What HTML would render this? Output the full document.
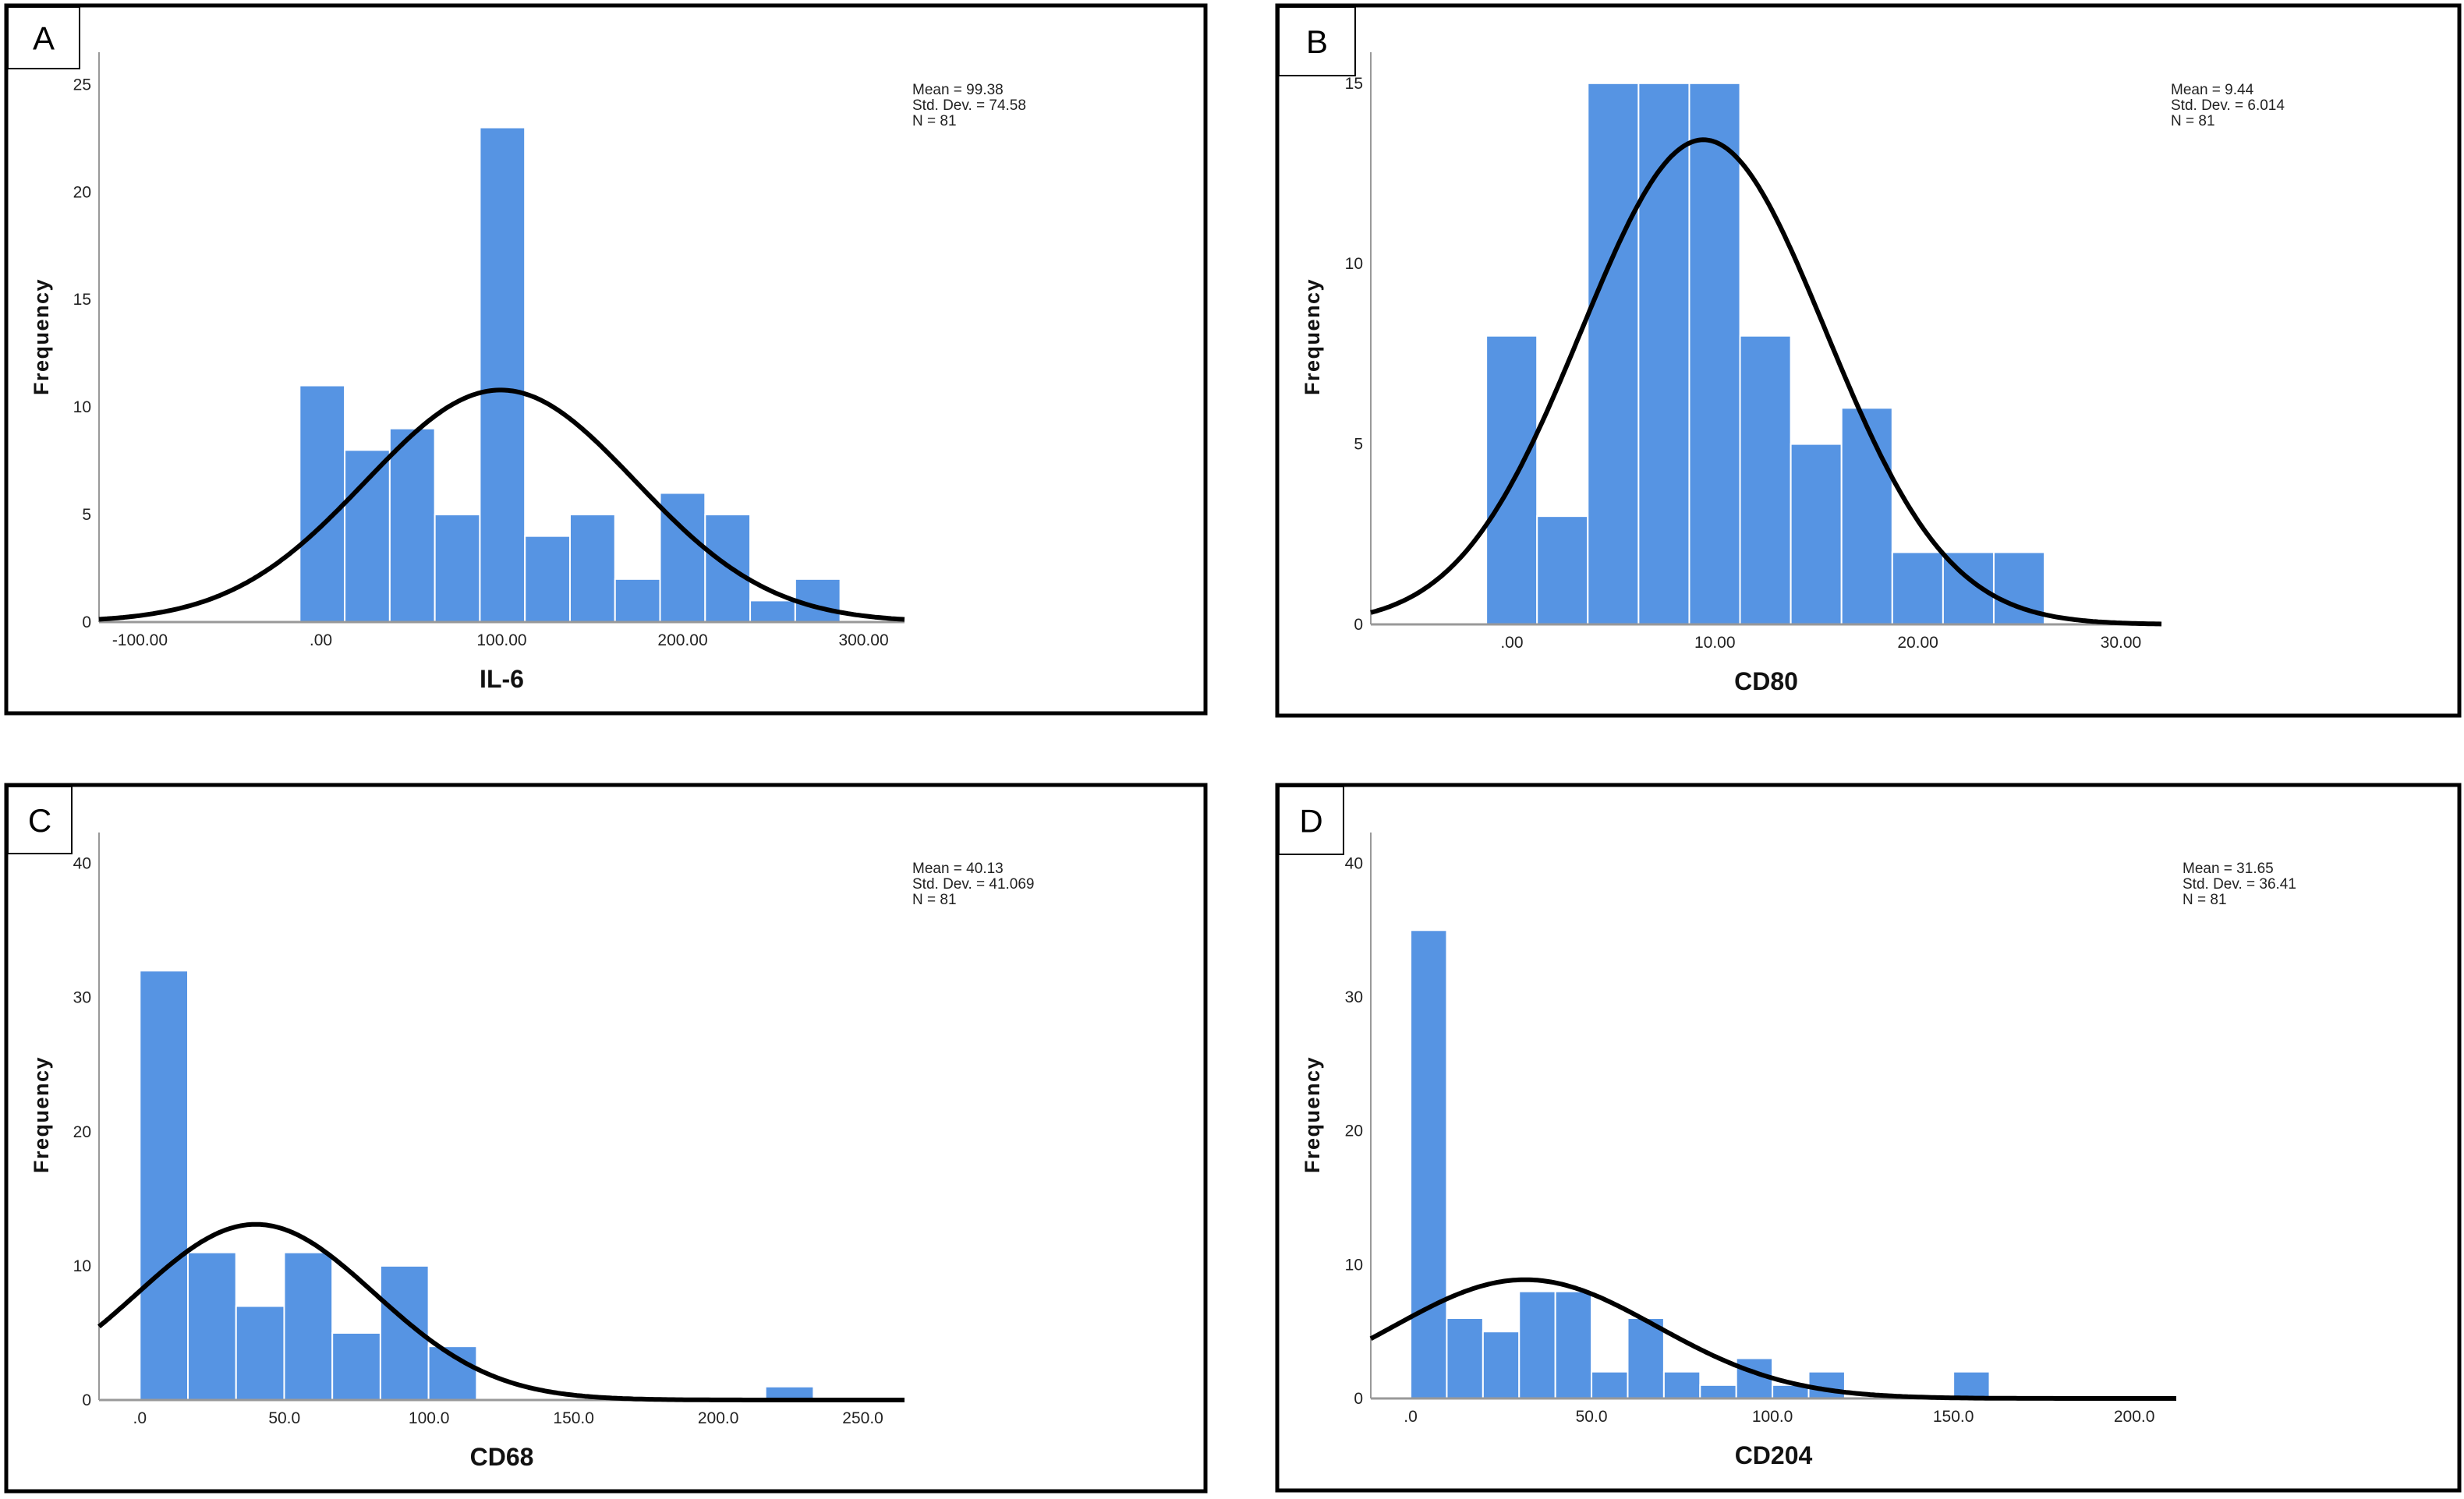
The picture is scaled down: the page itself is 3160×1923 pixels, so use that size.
<!DOCTYPE html>
<html><head><meta charset="utf-8"><style>
html,body{margin:0;padding:0;background:#fff;}
svg{display:block;}
text{font-family:"Liberation Sans Narrow","Liberation Sans",sans-serif;}
</style></head><body>
<svg id="fig" width="3160" height="1923" viewBox="0 0 3160 1923" xmlns="http://www.w3.org/2000/svg"></svg>
<script>
// ---- data ----
const aCounts = [11, 8, 9, 5, 23, 4, 5, 2, 6, 5, 1, 2];
const bCounts = [8, 3, 15, 15, 15, 8, 5, 6, 2, 2, 2];
const cCounts = [32, 11, 7, 11, 5, 10, 4, 0, 0, 0, 0, 0, 0, 1];
const dCounts = [35, 6, 5, 8, 8, 2, 6, 2, 1, 3, 1, 2, 0, 0, 0, 2];
const binStarts = [-11.7, -1.26, 0, 0];
const binWidths = [24.9, 2.5, 16.64, 10];
const means = [99.38, 9.44, 40.13, 31.65];
const sds = [74.58, 6.014, 41.069, 36.41];
const nValues = [81, 81, 81, 81];
const meanLabels = ["99.38", "9.44", "40.13", "31.65"];
const sdLabels = ["74.58", "6.014", "41.069", "36.41"];
const aXTicks = [-100, 0, 100, 200, 300];
const aXTickLabels = ["-100.00", ".00", "100.00", "200.00", "300.00"];
const bXTicks = [0, 10, 20, 30];
const bXTickLabels = [".00", "10.00", "20.00", "30.00"];
const cXTicks = [0, 50, 100, 150, 200, 250];
const cXTickLabels = [".0", "50.0", "100.0", "150.0", "200.0", "250.0"];
const dXTicks = [0, 50, 100, 150, 200];
const dXTickLabels = [".0", "50.0", "100.0", "150.0", "200.0"];
const aYTicks = [0, 5, 10, 15, 20, 25];
const bYTicks = [0, 5, 10, 15];
const cYTicks = [0, 10, 20, 30, 40];
const dYTicks = [0, 10, 20, 30, 40];
const panelLetters = ["A", "B", "C", "D"];
const axisTitles = ["IL-6", "CD80", "CD68", "CD204"];
const xDomains = [[-122.6, 322.6], [-6.95, 32.0], [-14.1, 264.4], [-11, 211.6]];
const yDomainTops = [26.5, 15.86, 42.3, 42.3];

// ---- layout (pixels) ----
const L = [
 {bx:8,by:7,bw:1538,bh:908,lb:[10,9,92,79],ax:127,ar:1160,top:67,base:798,tickY:828,titleY:882,statX:1170,statY:121,freqX:62,freqY:432},
 {bx:1638,by:7,bw:1516,bh:911,lb:[1640,9,98,88],ax:1758,ar:2772,top:67,base:801,tickY:831,titleY:885,statX:2784,statY:121,freqX:1692,freqY:432},
 {bx:8,by:1007,bw:1538,bh:906,lb:[10,1009,82,86],ax:127,ar:1160,top:1068,base:1796,tickY:1826,titleY:1880,statX:1170,statY:1120,freqX:62,freqY:1430},
 {bx:1638,by:1007,bw:1516,bh:905,lb:[1640,1009,83,87],ax:1758,ar:2791,top:1068,base:1794,tickY:1824,titleY:1878,statX:2799,statY:1120,freqX:1692,freqY:1430}
];
const allCounts=[aCounts,bCounts,cCounts,dCounts];
const allXTicks=[aXTicks,bXTicks,cXTicks,dXTicks];
const allXLabels=[aXTickLabels,bXTickLabels,cXTickLabels,dXTickLabels];
const allYTicks=[aYTicks,bYTicks,cYTicks,dYTicks];

const NS="http://www.w3.org/2000/svg";
const svg=document.getElementById('fig');
function mk(tag,attrs,parent,txt){const e=document.createElementNS(NS,tag);for(const k in attrs)e.setAttribute(k,attrs[k]);if(txt!==undefined)e.textContent=txt;parent.appendChild(e);return e;}

for(let p=0;p<4;p++){
  const g=L[p];
  const grp=mk('g',{},svg);
  
  
  const [x0,x1]=xDomains[p];
  const xs=v=>g.ax+(v-x0)/(x1-x0)*(g.ar-g.ax);
  const ys=v=>g.base-v/yDomainTops[p]*(g.base-g.top);
  const border=mk('rect',{x:g.bx,y:g.by,width:g.bw,height:g.bh,fill:'none',stroke:'#000','stroke-width':5},grp);
  
  
  const lbox=mk('rect',{x:g.lb[0],y:g.lb[1],width:g.lb[2],height:g.lb[3],fill:'#fff',stroke:'#000','stroke-width':2},grp);
  
  
  const lt=mk('text',{x:g.lb[0]+g.lb[2]/2,y:g.lb[1]+g.lb[3]/2+15,'text-anchor':'middle','font-size':42,fill:'#000'},grp,panelLetters[p]);
  
  
  // bars
  const counts=allCounts[p];
  for(let i=0;i<counts.length;i++){
    if(counts[i]<=0)continue;
    const l=xs(binStarts[p]+i*binWidths[p]), r=xs(binStarts[p]+(i+1)*binWidths[p]);
    const b=mk('rect',{x:l,y:ys(counts[i]),width:r-l,height:g.base-ys(counts[i]),fill:'#5694e3',stroke:'#fff','stroke-width':2},grp);
    
    
  }
  // axes
  const ya=mk('line',{x1:g.ax,y1:g.top,x2:g.ax,y2:g.base,stroke:'#999','stroke-width':2},grp);
  
  
  const xa=mk('line',{x1:g.ax,y1:g.base,x2:g.ar,y2:g.base,stroke:'#999','stroke-width':3},grp);
  
  
  // normal curve
  let d='';
  const peakScale=nValues[p]*binWidths[p]/(sds[p]*Math.sqrt(2*Math.PI));
  for(let k=0;k<=300;k++){
    const v=x0+(x1-x0)*k/300;
    const f=peakScale*Math.exp(-0.5*Math.pow((v-means[p])/sds[p],2));
    d+=(k?'L':'M')+xs(v).toFixed(1)+','+ys(f).toFixed(1);
  }
  const c=mk('path',{d:d,fill:'none',stroke:'#000','stroke-width':6,'stroke-linejoin':'round'},grp);
  
  
  // ticks
  const yt=allYTicks[p];
  for(let i=0;i<yt.length;i++){
    const t=mk('text',{x:g.ax-10,y:ys(yt[i])+7,'text-anchor':'end','font-size':21,fill:'#222'},grp,String(yt[i]));
    
    
  }
  const xt=allXTicks[p], xl=allXLabels[p];
  for(let i=0;i<xt.length;i++){
    const t=mk('text',{x:xs(xt[i]),y:g.tickY,'text-anchor':'middle','font-size':21,fill:'#222'},grp,xl[i]);
    
    
  }
  const xt2=mk('text',{x:(xs(x0)+xs(x1))/2+0,y:g.titleY,'text-anchor':'middle','font-size':32,'font-weight':'bold',fill:'#111'},grp,axisTitles[p]);
  
  
  const fq=mk('text',{x:g.freqX,y:g.freqY,'text-anchor':'middle','font-size':27,'font-weight':'bold','letter-spacing':1.5,fill:'#111',transform:'rotate(-90 '+g.freqX+' '+g.freqY+')',style:'font-family:"Liberation Sans",sans-serif'},grp,'Frequency');
  
  
  const st=[ 'Mean = '+meanLabels[p], 'Std. Dev. = '+sdLabels[p], 'N = '+nValues[p] ];
  for(let i=0;i<3;i++){
    const t=mk('text',{x:g.statX,y:g.statY+i*20,'font-size':19,fill:'#222'},grp,st[i]);
    
    
  }
}
</script>
</body></html>
